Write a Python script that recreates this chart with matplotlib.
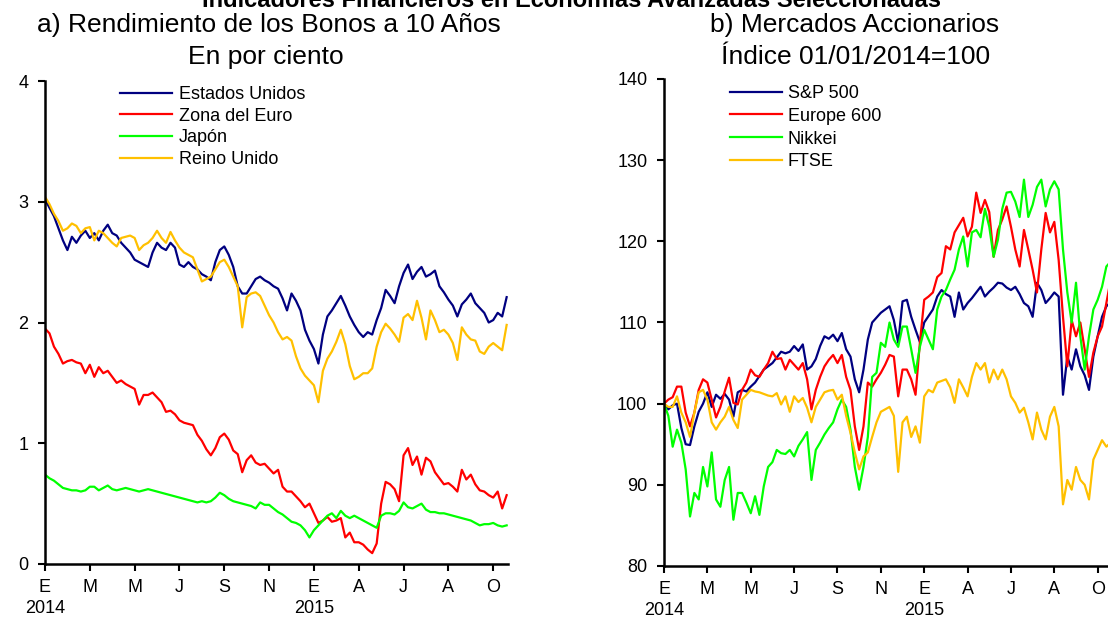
import matplotlib
matplotlib.use("Agg")
import matplotlib.pyplot as plt
import numpy as np

plt.rcParams['font.family'] = ['Liberation Sans', 'DejaVu Sans']

# eje temporal: 0 = ene-2014, una unidad por marca del eje (aprox. 2 meses)
t = np.arange(104) * 0.1

month_labels = ['E', 'M', 'M', 'J', 'S', 'N', 'E', 'A', 'J', 'A', 'O']
year_labels = {0: '2014', 6: '2015'}

# a) Rendimiento de los bonos a 10 anos (%)
us_10y = [3.02, 2.95, 2.88, 2.78, 2.68, 2.60, 2.71, 2.66, 2.72, 2.76,
          2.70, 2.74, 2.68, 2.76, 2.81, 2.74, 2.72, 2.66, 2.62, 2.58,
          2.52, 2.50, 2.48, 2.46, 2.58, 2.66, 2.62, 2.60, 2.66, 2.62,
          2.48, 2.46, 2.50, 2.46, 2.44, 2.40, 2.38, 2.35, 2.50, 2.60,
          2.63, 2.56, 2.46, 2.30, 2.24, 2.24, 2.30, 2.36, 2.38, 2.35,
          2.33, 2.30, 2.28, 2.20, 2.10, 2.24, 2.18, 2.10, 1.94, 1.85,
          1.78, 1.66, 1.90, 2.05, 2.10, 2.16, 2.22, 2.14, 2.05, 1.98,
          1.92, 1.88, 1.92, 1.90, 2.02, 2.12, 2.27, 2.22, 2.16, 2.30,
          2.41, 2.48, 2.36, 2.42, 2.46, 2.38, 2.40, 2.43, 2.30, 2.25,
          2.19, 2.14, 2.05, 2.15, 2.19, 2.24, 2.16, 2.12, 2.08, 2.00,
          2.02, 2.08, 2.05, 2.21]
euro_10y = [1.95, 1.91, 1.80, 1.74, 1.66, 1.68, 1.69, 1.67, 1.66, 1.58,
            1.65, 1.55, 1.63, 1.58, 1.60, 1.55, 1.50, 1.52, 1.49, 1.47,
            1.45, 1.32, 1.40, 1.40, 1.42, 1.38, 1.34, 1.26, 1.27, 1.24,
            1.19, 1.17, 1.16, 1.15, 1.07, 1.02, 0.95, 0.90, 0.96, 1.05,
            1.08, 1.03, 0.94, 0.91, 0.76, 0.86, 0.90, 0.84, 0.82, 0.83,
            0.79, 0.75, 0.78, 0.64, 0.60, 0.60, 0.56, 0.52, 0.47, 0.50,
            0.42, 0.34, 0.36, 0.39, 0.35, 0.36, 0.38, 0.22, 0.26, 0.18,
            0.18, 0.16, 0.12, 0.09, 0.17, 0.50, 0.68, 0.66, 0.62, 0.52,
            0.90, 0.96, 0.82, 0.89, 0.74, 0.88, 0.85, 0.76, 0.71, 0.66,
            0.67, 0.64, 0.60, 0.78, 0.70, 0.74, 0.66, 0.61, 0.60, 0.57,
            0.55, 0.60, 0.46, 0.57]
japan_10y = [0.74, 0.71, 0.69, 0.66, 0.63, 0.62, 0.61, 0.61, 0.60, 0.61,
             0.64, 0.64, 0.61, 0.63, 0.65, 0.62, 0.61, 0.62, 0.63, 0.62,
             0.61, 0.60, 0.61, 0.62, 0.61, 0.60, 0.59, 0.58, 0.57, 0.56,
             0.55, 0.54, 0.53, 0.52, 0.51, 0.52, 0.51, 0.52, 0.55, 0.59,
             0.57, 0.54, 0.52, 0.51, 0.50, 0.49, 0.48, 0.46, 0.51, 0.49,
             0.49, 0.46, 0.43, 0.41, 0.38, 0.35, 0.34, 0.32, 0.28, 0.22,
             0.28, 0.32, 0.36, 0.40, 0.42, 0.38, 0.44, 0.40, 0.38, 0.40,
             0.38, 0.36, 0.34, 0.32, 0.30, 0.40, 0.42, 0.42, 0.41, 0.44,
             0.51, 0.47, 0.46, 0.48, 0.50, 0.45, 0.43, 0.43, 0.42, 0.42,
             0.41, 0.40, 0.39, 0.38, 0.37, 0.36, 0.34, 0.32, 0.33, 0.33,
             0.34, 0.32, 0.31, 0.32]
uk_10y = [3.04, 2.98, 2.90, 2.84, 2.76, 2.78, 2.82, 2.80, 2.74, 2.78,
          2.79, 2.68, 2.76, 2.74, 2.70, 2.66, 2.63, 2.70, 2.71, 2.72,
          2.70, 2.60, 2.64, 2.66, 2.70, 2.76, 2.70, 2.66, 2.75, 2.68,
          2.62, 2.58, 2.56, 2.54, 2.44, 2.34, 2.36, 2.38, 2.44, 2.50,
          2.52, 2.46, 2.38, 2.30, 1.96, 2.21, 2.24, 2.25, 2.22, 2.14,
          2.06, 2.00, 1.92, 1.86, 1.88, 1.85, 1.72, 1.62, 1.56, 1.52,
          1.48, 1.34, 1.60, 1.70, 1.76, 1.84, 1.94, 1.82, 1.64, 1.53,
          1.55, 1.58, 1.58, 1.62, 1.80, 1.92, 1.99, 1.95, 1.90, 1.84,
          2.04, 2.07, 2.02, 2.18, 2.04, 1.86, 2.10, 2.02, 1.92, 1.94,
          1.90, 1.83, 1.69, 1.96, 1.90, 1.86, 1.85, 1.76, 1.74, 1.80,
          1.83, 1.80, 1.77, 1.98]

# b) Mercados accionarios (indice 01/01/2014 = 100)
sp500 = [100.0, 99.3, 99.8, 100.0, 97.0, 95.0, 94.9, 97.2, 99.0, 100.0,
         101.4, 99.6, 101.1, 100.6, 101.2, 100.5, 98.4, 101.4, 101.7, 101.5,
         102.1, 102.6, 103.4, 104.2, 104.6, 105.0, 105.7, 106.4, 106.2, 106.4,
         107.1, 106.5, 107.3, 104.2, 104.6, 105.5, 107.1, 108.3, 108.0, 108.5,
         107.7, 108.7, 106.7, 105.8, 103.0, 101.4, 104.2, 107.9, 110.0, 110.6,
         111.2, 111.6, 112.0, 110.3, 107.5, 112.6, 112.8, 110.7, 109.1, 107.6,
         110.0, 110.8, 111.6, 113.2, 114.0, 113.5, 113.2, 110.7, 113.7, 111.6,
         112.4, 113.0, 113.7, 114.4, 113.2, 113.8, 114.3, 114.9, 114.8, 114.3,
         114.0, 114.4, 113.5, 112.4, 112.0, 110.7, 114.9, 114.0, 112.4, 113.0,
         113.7, 113.2, 101.1, 105.8, 104.2, 106.7, 104.6, 103.5, 101.7, 105.8,
         108.3, 110.7, 112.0, 112.5]
europe600 = [100.0, 100.5, 100.8, 102.1, 102.1, 98.9, 97.2, 98.9, 101.7, 103.0,
             102.6, 100.5, 98.3, 99.6, 101.5, 103.2, 100.1, 99.9, 101.7, 102.6,
             104.2, 103.5, 103.3, 104.2, 105.0, 106.4, 105.5, 105.6, 104.2, 105.4,
             104.8, 104.2, 105.0, 103.0, 99.3, 101.7, 103.3, 104.6, 105.4, 106.0,
             105.0, 106.0, 103.3, 101.7, 97.2, 94.3, 97.2, 102.6, 102.1, 103.0,
             103.8, 104.8, 106.0, 105.8, 100.9, 104.2, 104.2, 103.0, 101.1, 107.5,
             112.8, 113.2, 113.7, 115.6, 116.1, 119.4, 119.0, 121.1, 122.0, 122.9,
             120.6, 121.8, 126.0, 123.5, 125.1, 123.6, 118.1, 121.4, 122.7, 124.3,
             121.8, 119.0, 116.9, 121.4, 119.0, 116.5, 113.7, 119.0, 123.5, 121.1,
             122.4, 117.7, 110.7, 104.6, 110.3, 108.3, 110.0, 106.7, 103.3, 106.3,
             108.3, 109.5, 112.4, 115.3]
nikkei = [100.0, 98.5, 94.7, 96.8, 95.2, 91.9, 86.1, 89.0, 88.2, 92.2,
          89.8, 94.0, 88.2, 87.3, 90.6, 92.2, 85.7, 89.0, 89.0, 87.8,
          86.5, 88.6, 86.3, 89.8, 92.2, 92.8, 94.3, 93.9, 93.8, 94.3,
          93.5, 94.8, 95.6, 96.5, 90.6, 94.3, 95.2, 96.2, 97.0, 97.7,
          99.3, 100.5, 99.6, 96.8, 92.2, 89.4, 92.2, 95.9, 103.3, 103.8,
          107.5, 107.0, 110.0, 107.9, 107.0, 109.5, 109.5, 106.7, 103.8, 107.0,
          109.1, 107.9, 106.7, 111.6, 113.2, 114.0, 115.3, 116.5, 119.0, 120.6,
          116.9, 121.1, 121.4, 120.5, 124.0, 121.8, 118.1, 120.2, 124.0, 126.0,
          126.1, 124.9, 123.0, 127.6, 123.0, 124.5, 126.7, 127.6, 124.3, 126.4,
          127.4, 126.4, 119.0, 113.7, 110.0, 114.9, 108.3, 104.2, 108.3, 111.6,
          112.8, 114.4, 116.9, 117.5]
ftse = [100.0, 99.6, 99.6, 100.9, 98.9, 97.7, 95.9, 98.9, 101.4, 101.7,
        100.5, 97.7, 96.8, 97.7, 98.4, 99.6, 98.0, 97.0, 100.5, 101.1,
        101.7, 101.5, 101.4, 101.2, 101.0, 100.9, 101.3, 99.9, 100.9, 99.0,
        100.9, 100.2, 100.7, 99.5, 97.7, 99.6, 100.5, 101.4, 101.6, 101.7,
        100.5, 101.1, 98.5, 96.4, 94.0, 91.9, 93.5, 94.0, 95.9, 97.7,
        99.0, 99.3, 99.6, 98.5, 91.6, 97.7, 98.4, 95.9, 97.2, 95.2,
        100.9, 101.7, 101.4, 102.6, 102.8, 103.0, 102.0, 100.1, 103.0, 102.0,
        100.9, 103.3, 105.0, 104.2, 105.0, 102.6, 104.2, 103.0, 104.2, 103.0,
        100.9, 100.1, 98.9, 99.5, 97.7, 95.6, 98.9, 96.8, 95.6, 98.4,
        99.6, 97.2, 87.6, 90.6, 89.4, 92.2, 90.6, 90.0, 88.2, 93.1,
        94.3, 95.5, 94.7, 95.2]

NAVY, RED, GREEN, GOLD = '#000080', '#FF0000', '#00FF00', '#FFC000'

fig = plt.figure(figsize=(11.08, 6.18), dpi=100)
ax1 = fig.add_axes([45/1108, 54/618, 463/1108, 483/618])
ax2 = fig.add_axes([664/1108, 52/618, 448/1108, 487/618])

ax1.plot(t, us_10y, color=NAVY, lw=1.6, label='Estados Unidos')
ax1.plot(t, euro_10y, color=RED, lw=1.6, label='Zona del Euro')
ax1.plot(t, japan_10y, color=GREEN, lw=1.6, label='Japón')
ax1.plot(t, uk_10y, color=GOLD, lw=1.6, label='Reino Unido')
ax1.set_ylim(0, 4)
ax1.set_yticks([0, 1, 2, 3, 4])

ax2.plot(t, sp500, color=NAVY, lw=1.6, label='S&P 500')
ax2.plot(t, europe600, color=RED, lw=1.6, label='Europe 600')
ax2.plot(t, nikkei, color=GREEN, lw=1.6, label='Nikkei')
ax2.plot(t, ftse, color=GOLD, lw=1.6, label='FTSE')
ax2.set_ylim(80, 140)
ax2.set_yticks(range(80, 141, 10))

xlabels = [m + ('\n' + year_labels[i] if i in year_labels else '')
           for i, m in enumerate(month_labels)]
for ax in (ax1, ax2):
    ax.set_xlim(0, 10.33)
    ax.set_xticks(range(len(month_labels)))
    ax.set_xticklabels(xlabels, fontsize=13, va='top', linespacing=1.25)
    ax.tick_params(axis='y', labelsize=13, direction='out', length=5, width=1.5, pad=7)
    ax.tick_params(axis='x', direction='out', length=5, width=1.5, pad=6)
    for s in ('top', 'right'):
        ax.spines[s].set_visible(False)
    for s in ('left', 'bottom'):
        ax.spines[s].set_linewidth(1.8)
    ax.patch.set_visible(False)

ax1.legend(loc='upper left', bbox_to_anchor=(120/1108, 1 - 86/618),
           bbox_transform=fig.transFigure, frameon=False, fontsize=13,
           handlelength=2.9, handletextpad=0.35, labelspacing=0.26,
           borderpad=0, borderaxespad=0)
ax2.legend(loc='upper left', bbox_to_anchor=(730/1108, 1 - 85/618),
           bbox_transform=fig.transFigure, frameon=False, fontsize=13,
           handlelength=2.9, handletextpad=0.3, labelspacing=0.32,
           borderpad=0, borderaxespad=0)

fig.text(0.516, 1 - 7/618, 'Indicadores Financieros en Economías Avanzadas Seleccionadas',
         ha='center', va='baseline', fontsize=17, fontweight='bold')
fig.text(269/1108, 1 - 25/618, 'a) Rendimiento de los Bonos a 10 Años',
         ha='center', va='center', fontsize=19)
fig.text(266/1108, 1 - 57/618, 'En por ciento', ha='center', va='center', fontsize=19)
fig.text(855/1108, 1 - 25/618, 'b) Mercados Accionarios', ha='center', va='center', fontsize=19)
fig.text(856/1108, 1 - 57/618, 'Índice 01/01/2014=100', ha='center', va='center', fontsize=19)

fig.savefig('out.png', dpi=100)
